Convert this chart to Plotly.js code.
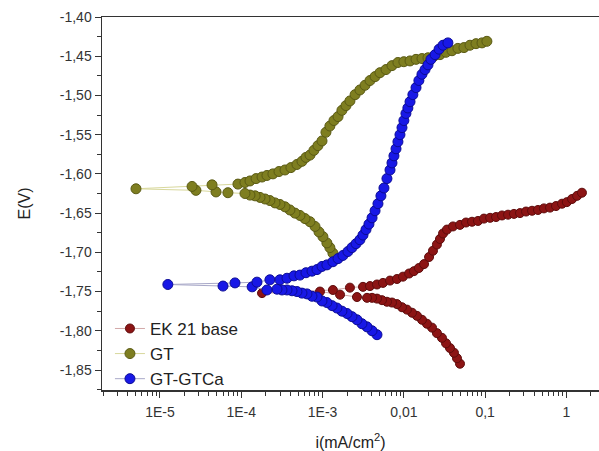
<!DOCTYPE html>
<html>
<head>
<meta charset="utf-8">
<script src="https://cdn.plot.ly/plotly-3.0.1.min.js"></script>
<style>html,body{margin:0;padding:0;background:#fff;}#chart{width:599px;height:451px;}</style>
</head>
<body>
<div id="chart"></div>
<script>
// EK 21 base
const ekI = [4.90e-2,4.50e-2,4.13e-2,3.69e-2,3.30e-2,2.94e-2,2.55e-2,2.22e-2,1.92e-2,1.67e-2,1.45e-2,1.26e-2,1.09e-2,9.48e-3,8.22e-3,7.14e-3,6.19e-3,5.38e-3,4.67e-3,4.06e-3,
  3.52e-3,2.65e-3,1.64e-3,9.29e-4,1.80e-4,1.34e-3,2.17e-3,3.14e-3,
  3.83e-3,4.67e-3,5.53e-3,6.75e-3,8.22e-3,9.75e-3,1.16e-2,1.33e-2,1.53e-2,1.77e-2,2.04e-2,2.28e-2,2.55e-2,2.78e-2,3.03e-2,3.39e-2,4.02e-2,4.90e-2,5.81e-2,6.89e-2,8.15e-2,9.66e-2,0.115,0.136,0.161,0.191,0.226,0.268,0.318,0.377,0.446,0.528,0.627,0.743,0.881,1.01,1.17,1.35,1.55];
const ekE = [-1.842,-1.835,-1.828,-1.822,-1.816,-1.809,-1.803,-1.796,-1.791,-1.786,-1.781,-1.777,-1.773,-1.770,-1.766,-1.764,-1.763,-1.761,-1.759,-1.758,
  -1.758,-1.757,-1.754,-1.750,-1.752,-1.748,-1.745,-1.744,
  -1.743,-1.741,-1.739,-1.736,-1.734,-1.731,-1.727,-1.724,-1.720,-1.715,-1.706,-1.698,-1.690,-1.683,-1.676,-1.671,-1.667,-1.665,-1.662,-1.661,-1.660,-1.657,-1.656,-1.655,-1.653,-1.652,-1.651,-1.650,-1.648,-1.647,-1.646,-1.644,-1.643,-1.641,-1.638,-1.636,-1.632,-1.628,-1.624];

// GT
const gtI = [1.34e-3,1.23e-3,1.13e-3,1.01e-3,9.04e-4,8.07e-4,7.0e-4,6.08e-4,5.27e-4,4.58e-4,3.97e-4,3.45e-4,2.99e-4,2.60e-4,2.25e-4,1.96e-4,1.70e-4,1.48e-4,1.28e-4,1.11e-4,
  6.85e-5,4.89e-5,2.77e-5,5.07e-6,2.48e-5,4.37e-5,9.1e-5,
  1.11e-4,1.28e-4,1.52e-4,1.80e-4,2.07e-4,2.45e-4,2.91e-4,3.45e-4,4.08e-4,4.84e-4,5.58e-4,6.25e-4,7.0e-4,7.83e-4,8.77e-4,9.84e-4,1.10e-3,1.23e-3,1.38e-3,1.55e-3,
  1.73e-3,1.94e-3,2.17e-3,2.51e-3,2.88e-3,3.33e-3,3.83e-3,4.42e-3,5.08e-3,6.03e-3,7.14e-3,8.45e-3,1.0e-2,1.19e-2,1.41e-2,1.67e-2,1.98e-2,2.34e-2,2.78e-2,3.30e-2,
  3.91e-2,4.62e-2,5.48e-2,6.50e-2,7.71e-2,9.14e-2,0.105];
const gtE = [-1.701,-1.694,-1.688,-1.680,-1.674,-1.667,-1.661,-1.657,-1.653,-1.650,-1.646,-1.642,-1.639,-1.637,-1.634,-1.632,-1.630,-1.628,-1.627,-1.625,
  -1.624,-1.623,-1.621,-1.619,-1.616,-1.614,-1.613,
  -1.611,-1.609,-1.606,-1.604,-1.602,-1.600,-1.597,-1.595,-1.592,-1.588,-1.584,-1.579,-1.576,-1.570,-1.564,-1.558,-1.547,-1.539,-1.532,-1.527,
  -1.519,-1.513,-1.507,-1.499,-1.493,-1.487,-1.481,-1.476,-1.471,-1.467,-1.462,-1.458,-1.457,-1.456,-1.454,-1.453,-1.452,-1.450,-1.448,-1.445,
  -1.443,-1.440,-1.439,-1.436,-1.434,-1.433,-1.431];

// GT-GTCa
const gtcaI = [4.67e-3,4.06e-3,3.52e-3,3.05e-3,2.65e-3,2.30e-3,2.0e-3,1.73e-3,1.50e-3,1.31e-3,1.13e-3,9.84e-4,8.53e-4,7.41e-4,6.43e-4,5.58e-4,4.84e-4,4.21e-4,3.65e-4,3.17e-4,2.75e-4,
  2.07e-4,1.36e-4,5.96e-5,1.25e-5,8.37e-5,1.56e-4,2.25e-4,
  2.99e-4,3.65e-4,4.45e-4,5.27e-4,6.25e-4,7.41e-4,8.53e-4,9.84e-4,1.13e-3,1.34e-3,
  1.55e-3,1.78e-3,2.05e-3,2.30e-3,2.58e-3,2.88e-3,3.14e-3,3.42e-3,3.72e-3,4.06e-3,
  4.42e-3,4.80e-3,5.22e-3,5.69e-3,6.19e-3,6.75e-3,7.14e-3,7.55e-3,8.0e-3,8.45e-3,
  8.95e-3,9.48e-3,1.0e-2,1.06e-2,1.12e-2,1.19e-2,1.29e-2,1.41e-2,1.53e-2,1.67e-2,
  1.82e-2,1.98e-2,2.15e-2,2.42e-2,2.71e-2,3.03e-2,3.48e-2];
const gtcaE = [-1.805,-1.800,-1.795,-1.791,-1.786,-1.782,-1.778,-1.775,-1.771,-1.768,-1.764,-1.762,-1.757,-1.756,-1.753,-1.752,-1.750,-1.749,-1.748,-1.748,-1.747,
  -1.748,-1.744,-1.743,-1.741,-1.739,-1.738,-1.735,
  -1.735,-1.733,-1.730,-1.729,-1.726,-1.724,-1.722,-1.718,-1.716,-1.712,
  -1.708,-1.704,-1.699,-1.694,-1.689,-1.684,-1.678,-1.671,-1.664,-1.656,
  -1.647,-1.638,-1.628,-1.618,-1.606,-1.595,-1.586,-1.577,-1.568,-1.559,
  -1.550,-1.541,-1.532,-1.523,-1.516,-1.508,-1.499,-1.490,-1.481,-1.473,
  -1.467,-1.461,-1.454,-1.448,-1.441,-1.436,-1.433];

const seriesNames = ['EK 21 base', 'GT', 'GT-GTCa'];

const xTickVals = [1e-5, 1e-4, 1e-3, 1e-2, 1e-1, 1];
const xTickText = ['1E-5', '1E-4', '1E-3', '0,01', '0,1', '1'];
const yTickVals = [-1.40, -1.45, -1.50, -1.55, -1.60, -1.65, -1.70, -1.75, -1.80, -1.85];
const yTickText = ['-1,40', '-1,45', '-1,50', '-1,55', '-1,60', '-1,65', '-1,70', '-1,75', '-1,80', '-1,85'];

function trace(x, y, name, fill, edge, lineColor, size) {
  return {
    x: x, y: y, name: name, type: 'scatter', mode: 'lines+markers',
    line: {color: lineColor, width: 1},
    marker: {color: fill, size: size, line: {color: edge, width: 1}}
  };
}

const data = [
  trace(ekI, ekE, seriesNames[0], '#8c1414', '#5e0c0c', '#d2a8a8', 9),
  trace(gtI, gtE, seriesNames[1], '#7e7e20', '#5a5a14', '#d8d89c', 10),
  trace(gtcaI, gtcaE, seriesNames[2], '#1818e6', '#0c0c96', '#a8a8c8', 10)
];

const FAM = 'Liberation Sans, Arial, sans-serif';
const tickFont = {family: FAM, size: 14, color: '#333'};

const layout = {
  width: 599, height: 451,
  margin: {l: 102, r: 0, t: 17, b: 61, pad: 0},
  paper_bgcolor: '#fff', plot_bgcolor: '#fff',
  font: {family: FAM, color: '#222'},
  showlegend: true,
  legend: {
    x: 0.016, y: 0.212, xanchor: 'left', yanchor: 'top',
    bgcolor: 'rgba(0,0,0,0)', font: {family: FAM, size: 17, color: '#222'},
    tracegroupgap: 0
  },
  xaxis: {
    type: 'log', range: [-5.713, 0.40],
    tickmode: 'array', tickvals: xTickVals, ticktext: xTickText,
    ticks: 'outside', ticklen: 6, tickwidth: 1, tickcolor: '#333',
    minor: {ticks: 'outside', ticklen: 4, dtick: 'D1', tickcolor: '#333', tickwidth: 1},
    showline: true, linecolor: '#333', linewidth: 1.5, mirror: true,
    showgrid: false, zeroline: false,
    tickfont: tickFont, ticklabelstandoff: 3,
    title: {text: 'i(mA/cm<sup>2</sup>)', font: {family: FAM, size: 16, color: '#222'}}
  },
  yaxis: {
    range: [-1.8755, -1.40],
    tickmode: 'array', tickvals: yTickVals, ticktext: yTickText,
    ticks: 'outside', ticklen: 6, tickwidth: 1, tickcolor: '#333',
    minor: {ticks: 'outside', ticklen: 4, tick0: -1.40, dtick: 0.025, tickcolor: '#333', tickwidth: 1},
    showline: true, linecolor: '#333', linewidth: 1.5,
    showgrid: false, zeroline: false,
    tickfont: tickFont,
    title: {text: 'E(V)', standoff: 25, font: {family: FAM, size: 16, color: '#222'}}
  }
};

Plotly.newPlot('chart', data, layout, {staticPlot: true, displayModeBar: false});
</script>
</body>
</html>
